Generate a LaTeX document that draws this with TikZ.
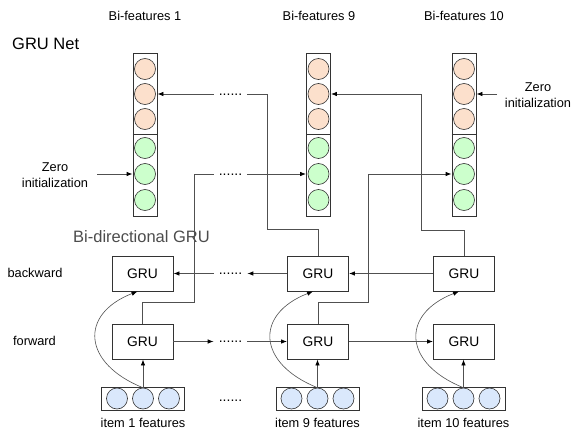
\documentclass[tikz,border=0pt]{standalone}
\usepackage{fontspec}
\setmainfont{Liberation Sans}
\usetikzlibrary{arrows.meta}
\definecolor{peach}{RGB}{252,224,204}
\definecolor{mint}{RGB}{204,255,204}
\definecolor{sky}{RGB}{218,232,252}
\definecolor{wirec}{RGB}{80,80,80}
\begin{document}
\begin{tikzpicture}[x=1pt,y=-1pt,
  txt/.style={font=\fontsize{12.8}{16}\selectfont, inner sep=0pt},
  big/.style={font=\fontsize{16.5}{19}\selectfont, inner sep=0pt},
  gru/.style={draw=black!80, line width=0.8pt, minimum width=61pt, minimum height=35pt, inner sep=0pt, font=\fontsize{13.8}{16}\selectfont},
  vec/.style={draw=black!80, line width=0.8pt, minimum width=24pt, minimum height=163pt, inner sep=0pt},
  feat/.style={draw=black!80, line width=0.8pt, minimum width=83pt, minimum height=23pt, inner sep=0pt},
  cir/.style={circle, draw=black!80, line width=0.6pt, minimum size=21pt, inner sep=0pt},
  arr/.style={-{Latex[length=6pt,width=4.5pt,black]}},
  wire/.style={draw=wirec, line width=0.8pt},
  dotsn/.style={font=\fontsize{14}{16}\selectfont, inner sep=0pt, anchor=base}
]
\useasboundingbox (0,0) rectangle (574,431);

% titles
\node[big, anchor=west] (gn) at (12,44) {GRU Net};
\node[big, anchor=west, text=black!70] (bd) at (73,237) {Bi-directional GRU};
\node[txt] (t1) at (145,16) {Bi-features 1};
\node[txt] (t9) at (319,16) {Bi-features 9};
\node[txt] (t10) at (464,16) {Bi-features 10};
\node[txt] (bw) at (35,273) {backward};
\node[txt] (fw) at (34.5,341) {forward};

% vectors
\foreach \n/\x in {1/145, 2/318.5, 3/464}{
  \node[vec] (v\n) at (\x,134.5) {};
  \draw[black!80, line width=0.8pt] (v\n.west |- 0,134.5) -- (v\n.east |- 0,134.5);
  \node[cir, fill=peach] (v\n o1) at (\x,69) {};
  \node[cir, fill=peach] (v\n o2) at (\x,94) {};
  \node[cir, fill=peach] (v\n o3) at (\x,119) {};
  \node[cir, fill=mint] (v\n g1) at (\x,148) {};
  \node[cir, fill=mint] (v\n g2) at (\x,174) {};
  \node[cir, fill=mint] (v\n g3) at (\x,200) {};
}

% GRU boxes
\node[gru] (g1b) at (142.5,273.5) {GRU};
\node[gru] (g1f) at (142.5,341.5) {GRU};
\node[gru] (g9b) at (318,273.5) {GRU};
\node[gru] (g9f) at (318,341.5) {GRU};
\node[gru] (g10b) at (464,273.5) {GRU};
\node[gru] (g10f) at (464,341.5) {GRU};

% feature boxes
\foreach \n/\x in {1/143, 9/317.5, 10/463.5}{
  \node[feat] (f\n) at (\x,398.5) {};
  \node[cir, fill=sky] (f\n a) at (\x-26,398.5) {};
  \node[cir, fill=sky] (f\n m) at (\x,398.5) {};
  \node[cir, fill=sky] (f\n c) at (\x+26,398.5) {};
}
\node[txt] (l1) at (143,423) {item 1 features};
\node[txt] (l9) at (317.5,423) {item 9 features};
\node[txt] (l10) at (463.5,423) {item 10 features};

% dots
\node[dotsn] (dA) at (230.5,95.5) {......};
\node[dotsn] (dB) at (230.5,175.5) {......};
\node[dotsn] (dC) at (230.5,274.5) {......};
\node[dotsn] (dD) at (230.5,342.5) {......};
\node[dotsn] (dE) at (230.5,401.5) {......};

% zero initialization
\node[txt, align=center] (z1) at (55,175) {Zero\\initialization};
\coordinate (z1s) at (97,174);
\draw[wire, arr] (z1s) -- (v1.west |- v1g2);
\node[txt, align=center] (z2) at (538,95.5) {Zero\\initialization};
\coordinate (z2s) at (497,94);
\draw[wire, arr] (z2s) -- (v3.east |- v3o2);

% feature -> GRU
\foreach \n/\c in {1/1, 9/9, 10/10}{
  \draw[wire, arr] (f\n m.north) -- (f\n m.north |- g\c f.south);
  \draw[wire, line width=0.6pt, arr] (f\n m.north) .. controls +(-60,-24) and +(-59,23) .. ([xshift=-5pt]g\c b.south);
}

% forward row
\draw[wire, arr] (g1f.east) -- ([xshift=-5pt]dD.west |- g1f.east);
\draw[wire, arr] ([xshift=5pt]dD.east |- g9f.west) -- (g9f.west);
\draw[wire, arr] (g9f.east) -- (g10f.west);

% backward row
\draw[wire, arr] (g10b.west) -- (g9b.east);
\draw[wire, arr] (g9b.west) -- ([xshift=5pt]dC.east |- g9b.west);
\draw[wire, arr] ([xshift=-5pt]dC.west |- g1b.east) -- (g1b.east);

% routed outputs
\draw[wire] (g1f.north) -- ++(0,-21) -| (194,174) -- ([xshift=-5pt]dB.west |- 0,174);
\draw[wire, arr] ([xshift=5pt]dB.east |- 0,174) -- (v2.west |- v2g2);

\draw[wire] (g9b.north) -- ++(0,-26) -| (267,94) -- ([xshift=5pt]dA.east |- 0,94);
\draw[wire, arr] ([xshift=-5pt]dA.west |- 0,94) -- (v1.east |- v1o2);

\draw[wire, arr] (g9f.north) -- ++(0,-21) -| (368,174) -- (v3.west |- v3g2);
\draw[wire, arr] (g10b.north) -- ++(0,-25) -| (421,94) -- (v2.east |- v2o2);
\end{tikzpicture}
\end{document}
